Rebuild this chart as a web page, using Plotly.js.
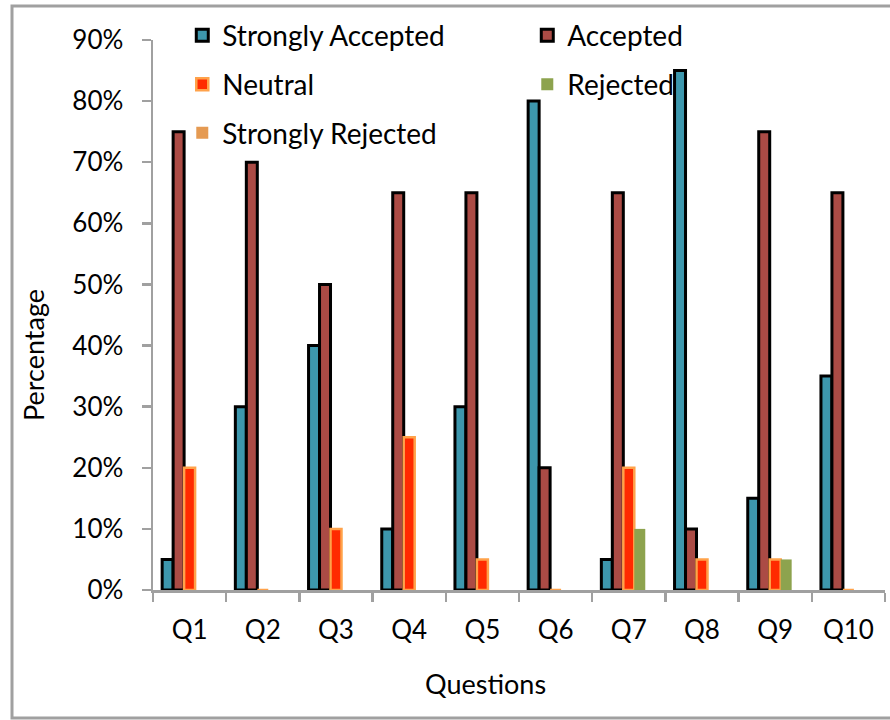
<!DOCTYPE html>
<html>
<head>
<meta charset="utf-8">
<script src="https://cdn.plot.ly/plotly-3.0.1.min.js"></script>
<style>
  html, body { margin: 0; padding: 0; background: #ffffff; }
  #chart { width: 890px; height: 720px; }
</style>
</head>
<body>
<div id="chart"></div>
<script>
const questions = ["Q1", "Q2", "Q3", "Q4", "Q5", "Q6", "Q7", "Q8", "Q9", "Q10"];
const stronglyAccepted = [5, 30, 40, 10, 30, 80, 5, 85, 15, 35];
const accepted = [75, 70, 50, 65, 65, 20, 65, 10, 75, 65];
const neutral = [20, 0, 10, 25, 5, 0, 20, 5, 5, 0];
const rejected = [0, 0, 0, 0, 0, 0, 10, 0, 5, 0];
const stronglyRejected = [0, 0, 0, 0, 0, 0, 0, 0, 0, 0];
const yTicks = [0, 10, 20, 30, 40, 50, 60, 70, 80, 90];
const xTitle = "Questions";
const yTitle = "Percentage";

const FONT = "Lato, 'Open Sans', sans-serif";
const AXIS = "#a0a0a0";

const traces = [
  { name: "Strongly Accepted", y: stronglyAccepted, legend: "legend",
    marker: { color: "#3d97ad", line: { color: "#000000", width: 3 } } },
  { name: "Accepted", y: accepted, legend: "legend",
    marker: { color: "#ab4b45", line: { color: "#000000", width: 3 } } },
  { name: "Neutral", y: neutral, legend: "legend2",
    marker: { color: "#ff2a00", line: { color: "#ffa24a", width: 2.5 } } },
  { name: "Rejected", y: rejected, legend: "legend2",
    marker: { color: "#8da34e", line: { width: 0 } } },
  { name: "Strongly Rejected", y: stronglyRejected, legend: "legend3",
    marker: { color: "#e59a52", line: { width: 0 } } }
].map(t => Object.assign({ type: "bar", x: questions, hoverinfo: "x+y" }, t));

const legendBase = {
  orientation: "h",
  xanchor: "left",
  yanchor: "middle",
  x: 0.04,
  bgcolor: "rgba(0,0,0,0)",
  borderwidth: 0,
  entrywidth: 300,
  entrywidthmode: "pixels",
  font: { family: FONT, size: 28, color: "#000000" },
  traceorder: "normal"
};

const titleFont = { family: FONT, size: 27, color: "#000000" };

const layout = {
  width: 890,
  height: 720,
  margin: { l: 153, r: 5, t: 40, b: 130 },
  paper_bgcolor: "#ffffff",
  plot_bgcolor: "#ffffff",
  font: { family: FONT, size: 26, color: "#000000" },
  barmode: "group",
  bargap: 0.25,
  bargroupgap: 0,
  showlegend: true,
  legend: Object.assign({}, legendBase, { y: 1.008 }),
  legend2: Object.assign({}, legendBase, { y: 0.919 }),
  legend3: Object.assign({}, legendBase, { y: 0.831 }),
  xaxis: {
    type: "category",
    showline: true, linecolor: AXIS, linewidth: 2.5,
    ticks: "outside", tickson: "boundaries", ticklen: 9, tickwidth: 2.5, tickcolor: AXIS,
    showgrid: false, zeroline: false,
    tickfont: { family: FONT, size: 26, color: "#000000" },
    ticklabelstandoff: 15
  },
  yaxis: {
    range: [0, 90],
    tickvals: yTicks,
    ticktext: yTicks.map(v => v + "%"),
    showline: true, linecolor: AXIS, linewidth: 2.5,
    ticks: "outside", ticklen: 9, tickwidth: 2.5, tickcolor: AXIS,
    showgrid: false, zeroline: false,
    tickfont: { family: FONT, size: 26, color: "#000000" },
    ticklabelstandoff: 13
  },
  annotations: [
    { text: xTitle, xref: "paper", yref: "paper", x: (485 - 153) / 732, y: (590 - 683) / 550,
      xanchor: "center", yanchor: "middle", showarrow: false, font: titleFont },
    { text: yTitle, xref: "paper", yref: "paper", x: (33 - 153) / 732, y: (590 - 355) / 550,
      xanchor: "center", yanchor: "middle", textangle: -90, showarrow: false, font: titleFont }
  ],
  shapes: [{
    type: "rect", xref: "paper", yref: "paper", layer: "below",
    x0: (12 - 153) / 732, x1: (896 - 153) / 732,
    y0: (590 - 718) / 550, y1: (590 - 6) / 550,
    line: { color: "#a0a0a0", width: 3 }, fillcolor: "rgba(0,0,0,0)"
  }]
};

Plotly.newPlot("chart", traces, layout, { displayModeBar: false, staticPlot: true });
</script>
</body>
</html>
